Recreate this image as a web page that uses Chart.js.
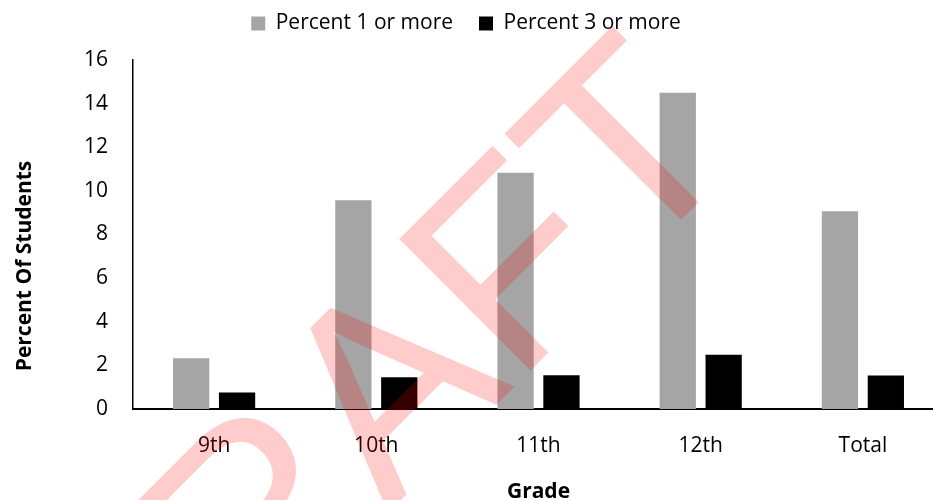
<!DOCTYPE html>
<html>
<head>
<meta charset="utf-8">
<script src="https://cdn.jsdelivr.net/npm/chart.js@4/dist/chart.umd.min.js"></script>
<style>
  html, body { margin: 0; padding: 0; background: #fff; overflow: hidden; width: 933px; height: 500px; }
  #wrap { position: absolute; left: 0; top: 0; width: 944px; height: 500px; }
</style>
</head>
<body>
<div id="wrap"><canvas id="c"></canvas></div>
<script>
const categories = ['9th', '10th', '11th', '12th', 'Total'];
const percent1OrMore = [2.33, 9.57, 10.83, 14.5, 9.07];
const percent3OrMore = [0.76, 1.46, 1.55, 2.49, 1.54];
const seriesNames = ['Percent 1 or more', 'Percent 3 or more'];
const xTitle = 'Grade';
const yTitle = 'Percent Of Students';
const watermarkText = 'DRAFT';

const FONT = '"Open Sans", "Noto Sans", sans-serif';

const legendSpacing = {
  id: 'legendSpacing',
  beforeInit(chart) {
    const origFit = chart.legend.fit;
    chart.legend.fit = function () {
      origFit.call(this);
      this.height += 16;
    };
  }
};

const yTitlePlugin = {
  id: 'yTitlePlugin',
  afterDraw(chart) {
    const ctx = chart.ctx;
    ctx.save();
    ctx.translate(25, 266);
    ctx.rotate(-Math.PI / 2);
    ctx.font = 'bold 21px ' + FONT;
    ctx.fillStyle = '#000';
    ctx.textAlign = 'center';
    ctx.textBaseline = 'middle';
    ctx.fillText(yTitle, 0, 0);
    ctx.restore();
  }
};

const watermarkPlugin = {
  id: 'watermarkPlugin',
  afterDraw(chart) {
    const ctx = chart.ctx;
    ctx.save();
    ctx.translate(430, 471);
    ctx.rotate(-Math.PI / 4);
    ctx.font = '270px "Liberation Sans", Arial, sans-serif';
    ctx.fillStyle = 'rgba(255, 0, 0, 0.2)';
    ctx.textAlign = 'center';
    ctx.textBaseline = 'alphabetic';
    ctx.fillText(watermarkText, 0, 0);
    ctx.restore();
  }
};

new Chart(document.getElementById('c'), {
  type: 'bar',
  data: {
    labels: categories,
    datasets: [
      { label: seriesNames[0], data: percent1OrMore, backgroundColor: '#A5A5A5', borderWidth: 0 },
      { label: seriesNames[1], data: percent3OrMore, backgroundColor: '#000000', borderWidth: 0 }
    ]
  },
  options: {
    responsive: true,
    maintainAspectRatio: false,
    animation: false,
    categoryPercentage: 0.566,
    barPercentage: 0.79,
    layout: { padding: { left: -12, right: 0, top: -13, bottom: 0 } },
    plugins: {
      legend: {
        position: 'top',
        labels: {
          font: { family: FONT, size: 21 },
          color: '#000',
          boxWidth: 14,
          boxHeight: 14,
          padding: 26
        }
      },
      tooltip: { enabled: false }
    },
    scales: {
      x: {
        grid: { display: false, drawTicks: false },
        border: { display: true, color: '#000', width: 2 },
        ticks: { font: { family: FONT, size: 21 }, color: '#000', padding: 24 },
        title: {
          display: true, text: xTitle, color: '#000',
          font: { family: FONT, size: 21, weight: 'bold', lineHeight: 0.8 },
          padding: { top: 1, bottom: 0 }
        }
      },
      y: {
        min: 0, max: 16,
        grid: { display: false, drawTicks: false },
        border: { display: true, color: '#000', width: 1.5 },
        ticks: { stepSize: 2, font: { family: FONT, size: 21 }, color: '#000', padding: 25 },
        afterFit(scale) { scale.width += 71; }
      }
    }
  },
  plugins: [legendSpacing, yTitlePlugin, watermarkPlugin]
});
</script>
</body>
</html>
